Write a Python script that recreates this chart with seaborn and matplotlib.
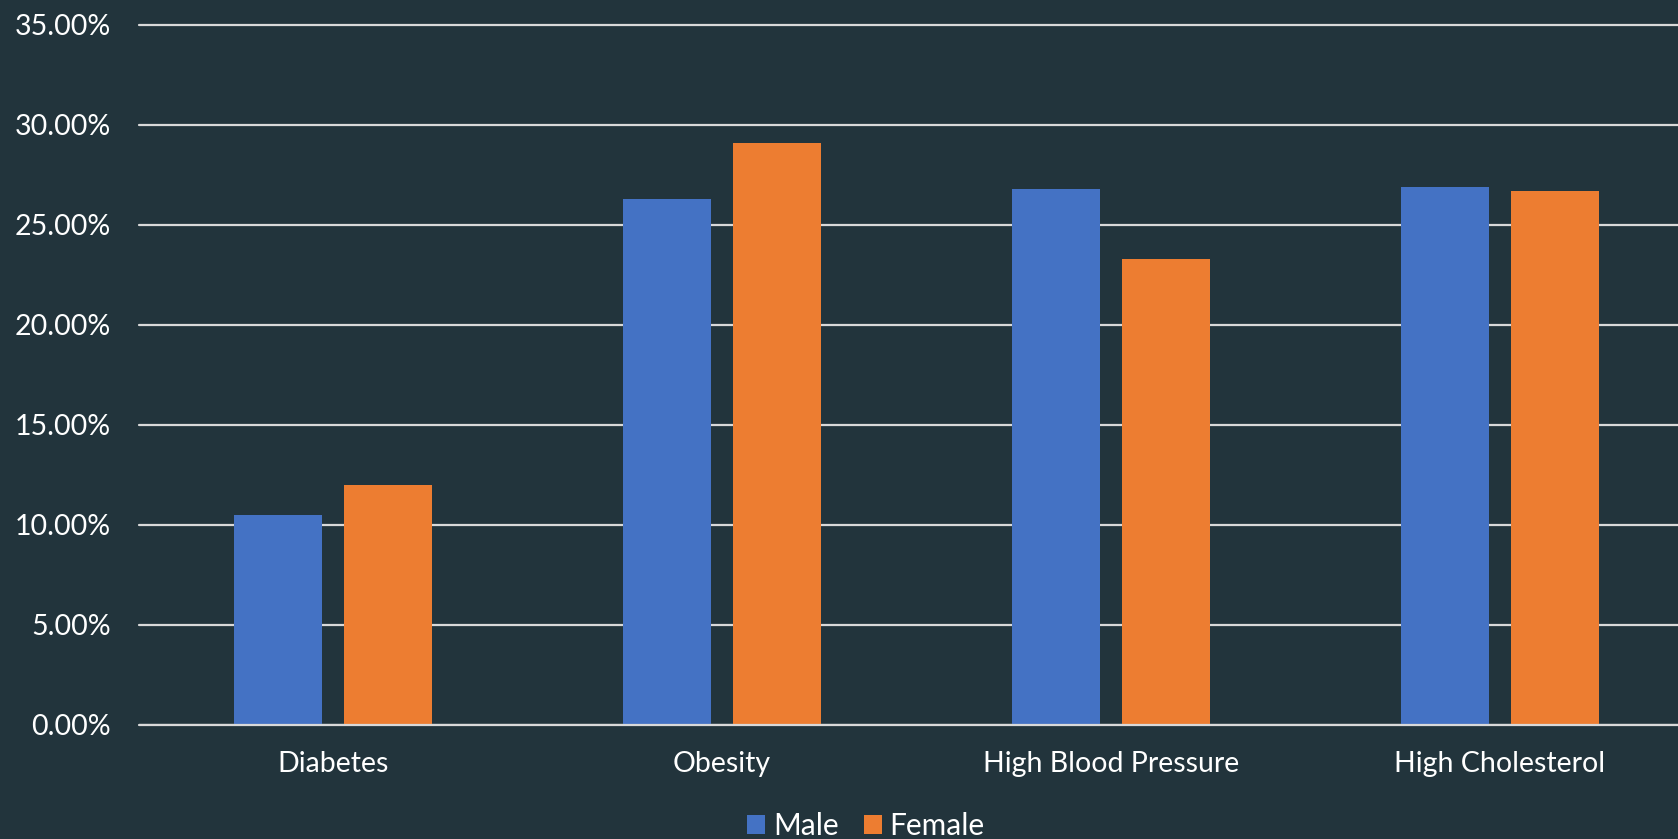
import matplotlib
matplotlib.use("Agg")
import matplotlib.pyplot as plt
import seaborn as sns
import pandas as pd
from matplotlib.ticker import PercentFormatter

# Prevalence of conditions by sex
conditions = ["Diabetes", "Obesity", "High Blood Pressure", "High Cholesterol"]
male = [0.1048, 0.2628, 0.2678, 0.2688]
female = [0.1198, 0.2908, 0.2328, 0.2668]
sexes = ["Male", "Female"]
y_ticks = [0.0, 0.05, 0.10, 0.15, 0.20, 0.25, 0.30, 0.35]

df = pd.DataFrame({
    "Condition": conditions * 2,
    "Sex": [sexes[0]] * len(conditions) + [sexes[1]] * len(conditions),
    "Rate": male + female,
})

BG = "#22343C"
GRID = "#D9D9D9"
TEXT = "#FFFFFF"

sns.set_theme(style="dark")
plt.rcParams["font.family"] = ["Lato", "DejaVu Sans"]

fig = plt.figure(figsize=(16.78, 8.39), dpi=100, facecolor=BG)
W, H = 1678, 839
left, right = 138.5, 138.5 + 4 * 389
bottom, top = 724.5, 24.6
ax = fig.add_axes([left / W, 1 - bottom / H, (right - left) / W, (bottom - top) / H])
ax.set_facecolor(BG)

sns.barplot(data=df, x="Condition", y="Rate", hue="Sex", order=conditions,
            hue_order=sexes, palette=["#4472C4", "#ED7D31"], width=0.566,
            gap=0.2, saturation=1, linewidth=0, ax=ax, legend=True, zorder=3)

ax.set_xlim(-0.5, 3.5)
ax.set_ylim(0, 0.35)
ax.set_yticks(y_ticks)
ax.yaxis.set_major_formatter(PercentFormatter(1.0, decimals=2))
ax.grid(axis="y", color=GRID, linewidth=1.6, zorder=0)
ax.grid(axis="x", visible=False)
for s in ax.spines.values():
    s.set_visible(False)
ax.axhline(0, color=GRID, linewidth=1.6, zorder=4)
for gl in ax.get_ygridlines():
    gl.set_clip_on(False)

ax.tick_params(axis="y", length=0, pad=20, labelsize=20.5, labelcolor=TEXT)
ax.tick_params(axis="x", length=0, pad=19, labelsize=20.5, labelcolor=TEXT)
ax.set_xlabel("")
ax.set_ylabel("")

handles, labels = ax.get_legend_handles_labels()
ax.get_legend().remove()
fig.legend(handles, labels, loc="center", bbox_to_anchor=(0.516, 0.016),
           ncol=2, frameon=False, fontsize=21.5, labelcolor=TEXT,
           handlelength=0.6, handleheight=0.6, handletextpad=0.25,
           columnspacing=0.85)

fig.savefig("out.png", dpi=100, facecolor=BG)
